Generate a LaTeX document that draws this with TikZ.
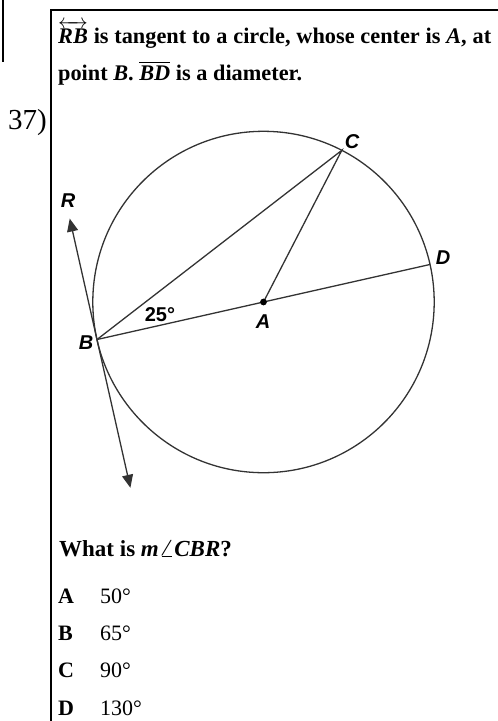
\documentclass[tikz,border=0pt]{standalone}
\usepackage{amsmath}
\usepackage{fontspec}
\setmainfont{Liberation Serif}
\newfontfamily\hv{Liberation Sans}
\usetikzlibrary{arrows.meta}
\begin{document}
\begin{tikzpicture}[x=1pt,y=-1pt,
  fig/.style={line width=1.3pt, draw=black!80},
  lab/.style={font=\hv\bfseries\itshape\fontsize{20}{20}\selectfont, inner sep=0pt},
  txt/.style={anchor=base west, inner sep=0pt, font=\bfseries\fontsize{22.3}{22.3}\selectfont},
  qtxt/.style={anchor=base west, inner sep=0pt, font=\fontsize{22}{22}\selectfont},
  qbold/.style={qtxt, font=\bfseries\fontsize{22}{22}\selectfont}]
\useasboundingbox (0,0) rectangle (498,721);
% frame lines
\draw[line width=1.2pt] (3,0) -- (3,62);
\draw[line width=1.5pt] (498,10) -- (51,10) -- (51,721);
% header text
\node[txt] (h1) at (58,43) {\makebox[433pt][s]{$\overleftrightarrow{\textbf{\textit{RB}}}$ is tangent to a circle, whose center is \textit{A}, at}};
\node[txt] (h2) at (58,80) {point \textit{B}. $\overline{\textbf{\textit{BD}}}$ is a diameter.};
\node[anchor=base west, inner sep=0pt, font=\fontsize{29}{29}\selectfont] (num) at (8,129) {37)};
% geometry
\coordinate (A) at (263.5,302);
\path (A) ++(167.3:170.7) coordinate (B);
\path (A) ++(-12.7:170.7) coordinate (D);
\path (A) ++(-62.7:170.7) coordinate (C);
\path (B) ++(-102.7:124) coordinate (R);
\path (B) ++(77.3:152) coordinate (S);
\draw[fig] (A) circle[radius=170.7];
\draw[fig] (B) -- (D);
\draw[fig] (B) -- (C) -- (A);
\draw[fig, {Triangle[length=13pt,width=11pt]}-{Triangle[length=13pt,width=11pt]}] (R) -- (S);
\fill[black] (A) circle[radius=3.4];
% labels
\node[lab] (lR) at (68,201) {R};
\node[lab] (lB) at (86,343) {B};
\node[lab] (lC) at (352,142) {C};
\node[lab] (lD) at (443,258) {D};
\node[lab] (lA) at (263,322) {A};
\node[font=\hv\bfseries\fontsize{20}{20}\selectfont, inner sep=0pt] (ang) at (160,315) {25°};
% question
\node[qbold, font=\bfseries\fontsize{23}{23}\selectfont] (q) at (59,556) {What is \textit{m}{\boldmath$\angle$}\textit{CBR}?};
\node[qbold] (ca) at (58,603) {A};
\node[qtxt] (va) at (100,603) {50°};
\node[qbold] (cb) at (58,640) {B};
\node[qtxt] (vb) at (100,640) {65°};
\node[qbold] (cc) at (58,677) {C};
\node[qtxt] (vc) at (100,677) {90°};
\node[qbold] (cd) at (58,715) {D};
\node[qtxt] (vd) at (100,715) {130°};
\end{tikzpicture}
\end{document}
